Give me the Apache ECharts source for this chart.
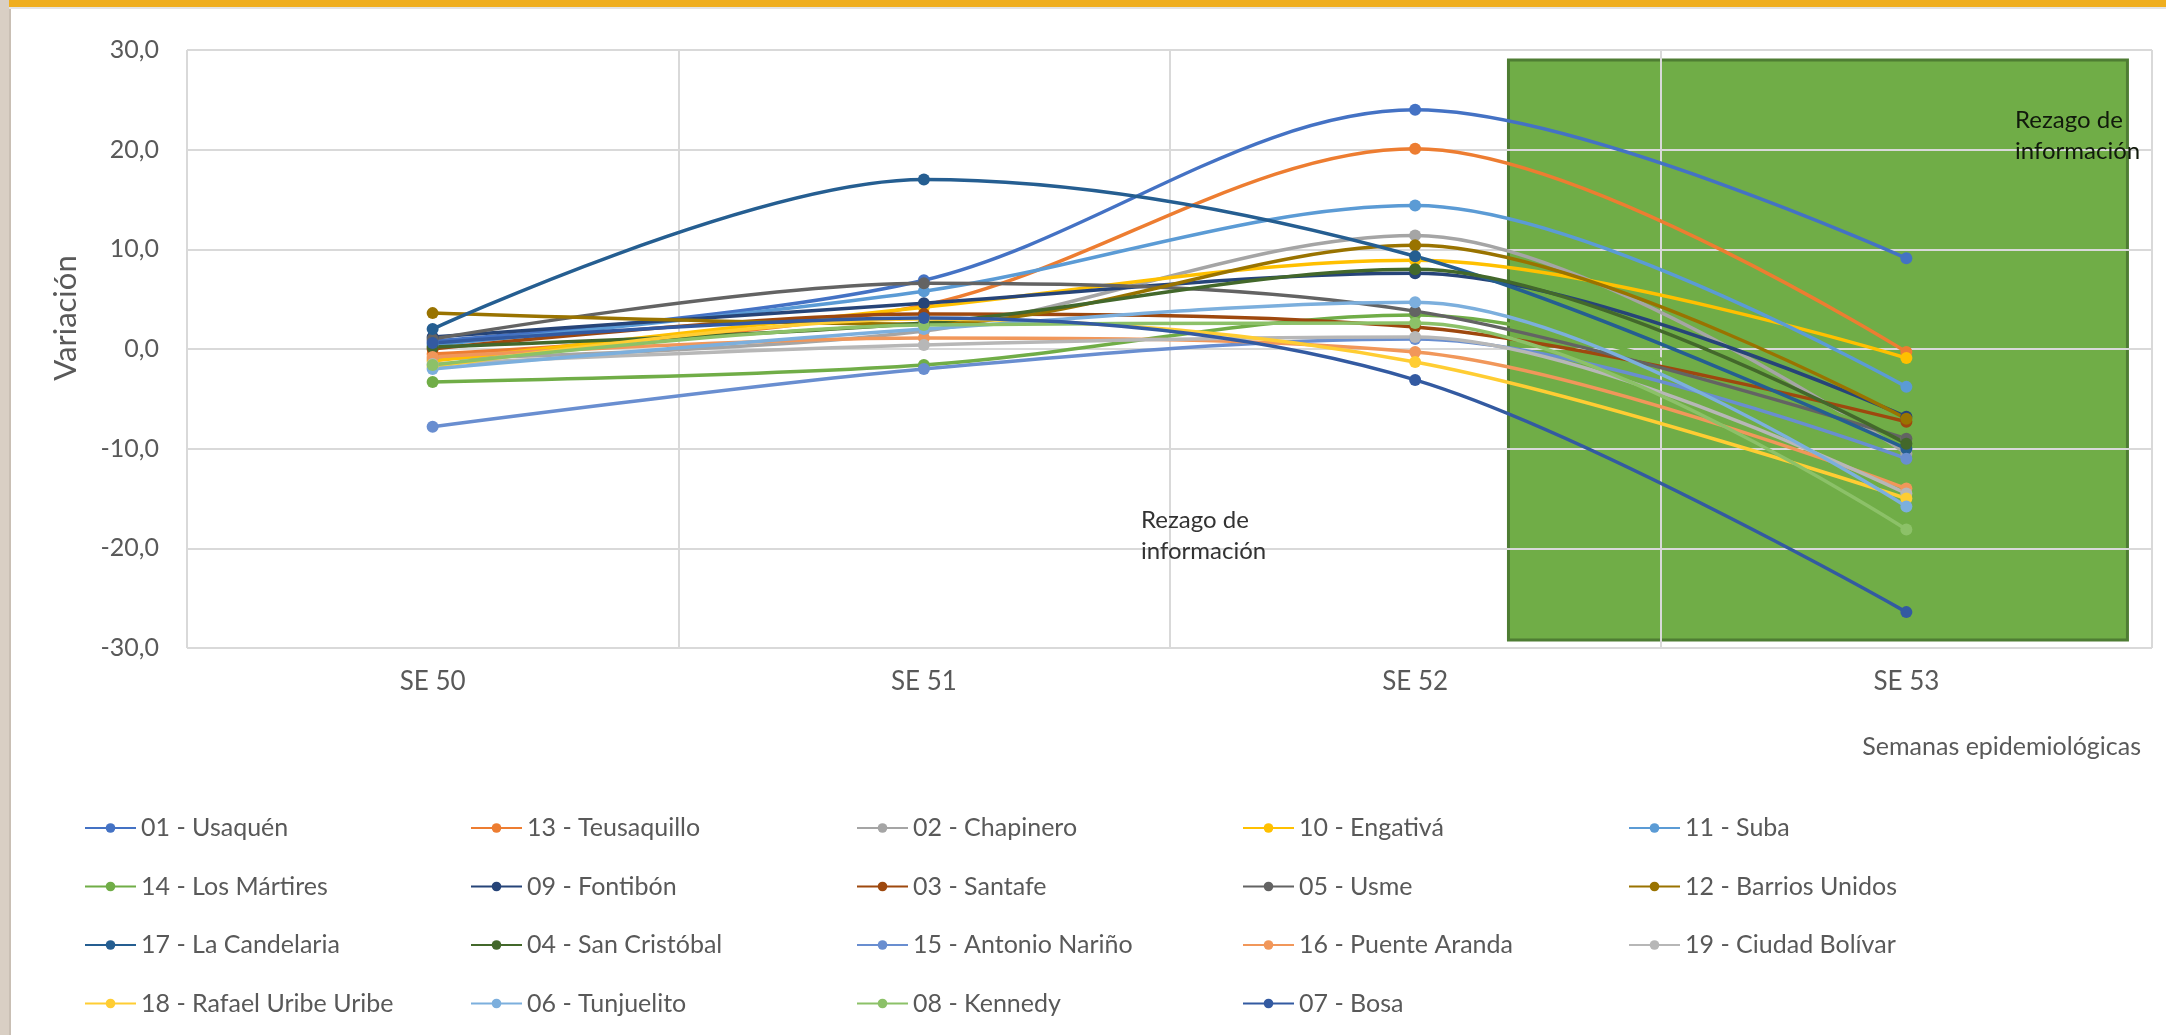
<!DOCTYPE html>
<html>
<head>
<meta charset="utf-8">
<script src="https://cdn.jsdelivr.net/npm/echarts@6/dist/echarts.min.js"></script>
<style>
html,body{margin:0;padding:0;background:#ffffff;}
#chart{width:2166px;height:1035px;}
</style>
</head>
<body>
<div id="chart"></div>
<script>
// ---------- DATA ----------
const categories = ['SE 50', 'SE 51', 'SE 52', 'SE 53'];
const yTicks = [-30, -20, -10, 0, 10, 20, 30];

const usaquen       = [0.8, 6.9, 24.0, 9.1];
const teusaquillo   = [-0.5, 4.4, 20.1, -0.3];
const chapinero     = [-1.0, 1.8, 11.4, -10.5];
const engativa      = [-1.2, 4.2, 8.9, -0.9];
const suba          = [0.4, 5.8, 14.4, -3.8];
const losMartires   = [-3.3, -1.6, 3.4, -9.0];
const fontibon      = [1.2, 4.6, 7.6, -6.8];
const santafe       = [0.0, 3.5, 2.2, -7.3];
const usme          = [1.0, 6.6, 3.8, -9.0];
const barriosUnidos = [3.6, 2.5, 10.4, -7.0];
const laCandelaria  = [2.0, 17.0, 9.3, -10.0];
const sanCristobal  = [0.2, 2.6, 8.0, -9.5];
const antonioNarino = [-7.8, -2.0, 1.0, -11.0];
const puenteAranda  = [-0.8, 1.1, -0.3, -14.0];
const ciudadBolivar = [-1.5, 0.4, 1.2, -14.5];
const rafaelUribe   = [-1.8, 3.0, -1.3, -15.0];
const tunjuelito    = [-2.0, 2.0, 4.7, -15.8];
const kennedy       = [-1.6, 2.4, 2.6, -18.1];
const bosa          = [0.6, 3.1, -3.1, -26.4];

const seriesNames = [
  '01 - Usaquén', '13 - Teusaquillo', '02 - Chapinero', '10 - Engativá', '11 - Suba',
  '14 - Los Mártires', '09 - Fontibón', '03 - Santafe', '05 - Usme', '12 - Barrios Unidos',
  '17 - La Candelaria', '04 - San Cristóbal', '15 - Antonio Nariño', '16 - Puente Aranda', '19 - Ciudad Bolívar',
  '18 - Rafael Uribe Uribe', '06 - Tunjuelito', '08 - Kennedy', '07 - Bosa'
];
const seriesValues = [
  usaquen, teusaquillo, chapinero, engativa, suba,
  losMartires, fontibon, santafe, usme, barriosUnidos,
  laCandelaria, sanCristobal, antonioNarino, puenteAranda, ciudadBolivar,
  rafaelUribe, tunjuelito, kennedy, bosa
];
const seriesColors = [
  '#4472C4', '#ED7D31', '#A5A5A5', '#FFC000', '#5B9BD5',
  '#70AD47', '#264478', '#9E480E', '#636363', '#997300',
  '#255E91', '#43682B', '#698ED0', '#F1975A', '#B7B7B7',
  '#FFCD33', '#7CAFDD', '#8CC168', '#335AA1'
];
// lag-of-information shaded region (in category-index / value units)
const lagRegion = { from: 2.19, to: 3.45, top: 29.0, bottom: -29.2 };

// ---------- CHART ----------
const FONT = 'Lato';
const chart = echarts.init(document.getElementById('chart'), null, { renderer: 'canvas' });

const lineSeries = seriesNames.map((name, i) => ({
  name: name,
  type: 'line',
  data: seriesValues[i],
  smooth: 0.33,
  symbol: 'circle',
  symbolSize: 12,
  z: 5,
  lineStyle: { width: 3.5, color: seriesColors[i] },
  itemStyle: { color: seriesColors[i] },
  emphasis: { disabled: true },
  animation: false
}));

const areaSeries = {
  name: 'lag',
  type: 'line',
  xAxisIndex: 1,
  data: [],
  z: 1,
  silent: true,
  animation: false,
  markArea: {
    silent: true,
    z: 1,
    itemStyle: { color: '#70AD47', borderColor: '#4E7D33', borderWidth: 3 },
    data: [[
      { xAxis: lagRegion.from, yAxis: lagRegion.top },
      { xAxis: lagRegion.to, yAxis: lagRegion.bottom }
    ]]
  }
};

// legend: 5 columns laid out as vertical legends
const legendColumnLefts = [84, 470, 856, 1242, 1628];
const legends = legendColumnLefts.map((left, c) => ({
  data: seriesNames.filter((_, i) => i % 5 === c),
  left: left,
  top: 813,
  orient: 'vertical',
  itemGap: 28.5,
  itemWidth: 51,
  itemHeight: 12,
  padding: 0,
  selectedMode: false,
  textStyle: { fontFamily: FONT, fontSize: 25, lineHeight: 30, color: '#595959' }
}));

const option = {
  backgroundColor: '#ffffff',
  animation: false,
  grid: { left: 187, right: 14, top: 50, bottom: 387, containLabel: false },
  xAxis: [
    {
      type: 'category',
      data: categories,
      boundaryGap: true,
      z: 3,
      axisLine: { show: false },
      axisTick: { show: false },
      axisLabel: { fontFamily: FONT, fontSize: 26, color: '#595959', margin: 21 },
      splitLine: { show: true, interval: 0, lineStyle: { color: '#D9D9D9', width: 2 } }
    },
    {
      type: 'value',
      min: -0.5,
      max: 3.5,
      show: false
    }
  ],
  yAxis: {
    type: 'value',
    min: yTicks[0],
    max: yTicks[yTicks.length - 1],
    interval: 10,
    z: 3,
    axisLine: { show: false },
    axisTick: { show: false },
    axisLabel: {
      fontFamily: FONT, fontSize: 25, color: '#595959', margin: 28,
      formatter: v => v.toFixed(1).replace('.', ',')
    },
    splitLine: { show: true, lineStyle: { color: '#D9D9D9', width: 2 } }
  },
  legend: legends,
  series: [areaSeries].concat(lineSeries),
  graphic: [
    { type: 'rect', left: 0, top: 0, shape: { width: 2166, height: 7 }, style: { fill: '#EFAE1F' }, z: 100 },
    { type: 'rect', left: 0, top: 7, shape: { width: 2166, height: 2 }, style: { fill: '#E4E4E4' }, z: 100 },
    { type: 'rect', left: 0, top: 0, shape: { width: 9, height: 1035 }, style: { fill: '#D9CFC4' }, z: 100 },
    { type: 'rect', left: 9, top: 9, shape: { width: 2, height: 1026 }, style: { fill: '#C9BFB4' }, z: 100 },
    {
      type: 'text', x: 66, y: 318, rotation: Math.PI / 2, z: 10,
      style: { text: 'Variación', fontFamily: FONT, fontSize: 31, fill: '#595959', textAlign: 'center', textVerticalAlign: 'middle' }
    },
    {
      type: 'text', x: 2141, y: 747, z: 10,
      style: { text: 'Semanas epidemiológicas', fontFamily: FONT, fontSize: 25, fill: '#595959', textAlign: 'right', textVerticalAlign: 'middle' }
    },
    {
      type: 'text', x: 1141, y: 505, z: 10,
      style: { text: 'Rezago de\ninformación', fontFamily: FONT, fontSize: 24, lineHeight: 31, fill: '#333333', textAlign: 'left', textVerticalAlign: 'top' }
    },
    {
      type: 'text', x: 2015, y: 105, z: 10,
      style: { text: 'Rezago de\ninformación', fontFamily: FONT, fontSize: 24, lineHeight: 31, fill: '#111a0c', textAlign: 'left', textVerticalAlign: 'top' }
    }
  ]
};
chart.setOption(option);
</script>
</body>
</html>
